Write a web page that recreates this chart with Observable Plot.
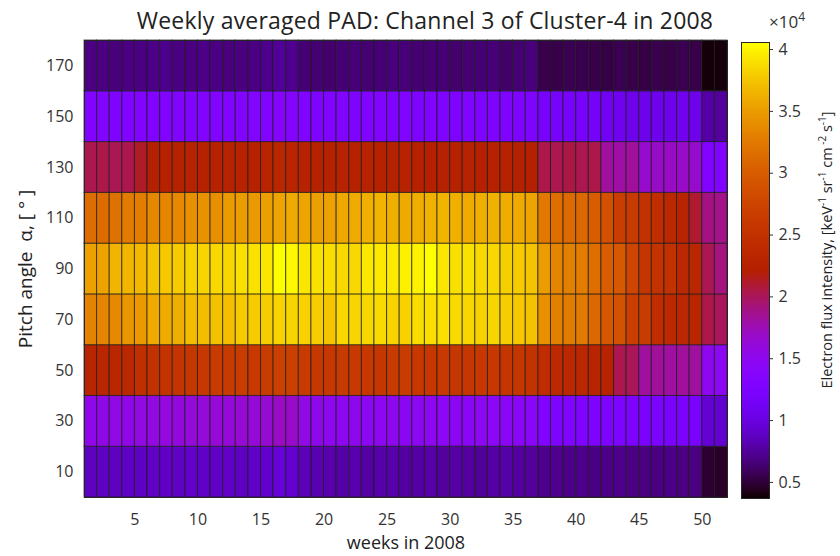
<!DOCTYPE html>
<html>
<head>
<meta charset="utf-8">
<script src="https://cdn.jsdelivr.net/npm/d3@7"></script>
<script src="https://cdn.jsdelivr.net/npm/@observablehq/plot@0.6"></script>
<style>
  html, body { margin: 0; padding: 0; background: #fff; }
  #wrap { position: relative; width: 840px; height: 556px; background: #fff; font-family: 'Open Sans', sans-serif; color: #222; overflow: hidden; }
  #title { position: absolute; left: 0px; width: 850px; top: 4px; text-align: center; font-size: 23px; letter-spacing: 0.2px; color: #222; white-space: nowrap; }
  #main { position: absolute; left: 0; top: 0; }
  #cb { position: absolute; left: 700px; top: 0; }
  #exp { position: absolute; left: 769px; top: 8px; font-size: 17px; color: #333; }
  #exp sup { font-size: 12px; }
  #cblabel { position: absolute; left: 827px; top: 250px; width: 420px; margin-left: -210px; margin-top: -10px; height: 20px; line-height: 20px;
             text-align: center; font-size: 14.5px; color: #222; transform: rotate(-90deg); white-space: nowrap; }
  #cblabel sup { font-size: 10px; line-height: 0; }
</style>
</head>
<body>
<div id="wrap">
  <div id="main"></div>
  <div id="cb"></div>
  <div id="title">Weekly averaged PAD: Channel 3 of Cluster-4 in 2008</div>
  <div id="exp">×10<sup>4</sup></div>
  <div id="cblabel">Electron flux intensity, [keV<sup>-1</sup> sr<sup>-1</sup> cm<sup> -2</sup> s<sup>-1</sup>]</div>
</div>
<script>
// ---- data ----
const weeks = d3.range(1, 52); // 51 plotted week cells (pcolor edges 1..52)
const angles = [10, 30, 50, 70, 90, 110, 130, 150, 170];
const xTicks = [5, 10, 15, 20, 25, 30, 35, 40, 45, 50];
const yTicks = [10, 30, 50, 70, 90, 110, 130, 150, 170];
const cbTicks = [5000, 10000, 15000, 20000, 25000, 30000, 35000, 40000];
const cmin = 3700, cmax = 40570;

const r10 = [
8700,8800,8700,8900,8800,8900,9000,8900,9100,9000,
8900,9000,8800,8900,9200,9600,9300,8400,8200,8000,
7900,8100,7800,7900,8000,7700,7800,7900,7600,7800,
7700,7500,7800,7900,7700,7600,7100,7200,7000,7100,
6900,7000,7100,6900,6800,6900,7000,6800,6900,4800,
4700];
const r30 = [
15400,15500,15600,15500,15700,15800,15900,16000,16200,16100,
16300,16200,16400,16300,16500,17000,16800,15600,15200,15000,
14900,15100,14800,14900,15000,14700,14800,14900,14600,14700,
14500,14800,14600,14400,14500,14300,13000,12900,13100,12800,
12700,12900,12600,12500,12300,12400,12200,12300,12100,9400,
9300];
const r50 = [
23100,23300,23200,23600,24700,25000,25200,25400,25800,26000,
26300,26200,26400,26100,26500,27000,26900,26200,26000,25900,
26300,26100,26000,25800,26200,26400,26000,25900,26100,25800,
25700,25900,26000,25600,25500,25300,24300,23800,23600,23400,
22900,22600,20300,20100,18200,18400,18100,18300,18200,15000,
14800];
const r70 = [
33200,33300,33600,34600,34800,35900,36000,36200,37000,37100,
37300,37200,37800,37900,38000,38300,38400,38200,38000,37600,
38600,38400,38500,38700,38300,38200,38800,38900,39000,38700,
38500,38200,38400,38000,37700,37400,34200,33000,32700,32500,
31000,29500,29000,26800,26400,24500,23800,23500,23000,20400,
20000];
const r90 = [
35300,35500,36500,36700,36800,37500,37700,37900,38300,38400,
38600,38500,39000,39100,39300,40500,40300,39300,39100,38900,
38700,38600,39400,39500,39600,39900,40000,40500,39300,39000,
39100,38700,38600,38100,37900,37500,35000,33300,33000,32800,
31600,30000,29600,27500,25500,25300,25100,23500,23200,20200,
19100];
const r110 = [
31500,31400,31800,32700,32800,33500,33400,33700,34200,34300,
34100,34900,35000,34800,35200,35500,35900,35600,35200,35300,
35800,36000,36300,36500,36200,35900,36100,36400,36600,36300,
36000,36200,36400,36100,35900,35500,32400,31600,31200,31000,
30000,28800,26600,26200,25000,24600,23400,22800,21000,19000,
18800];
const r130 = [
20300,20400,20200,20300,21200,22200,22400,22500,22600,22400,
22500,22700,22600,22500,22800,23200,23000,22600,22500,22400,
22600,22500,22700,22400,22500,22600,22400,22300,22500,22400,
22600,22300,22400,22500,22300,22200,20400,20300,20500,20300,
20400,18200,18000,18300,16600,16900,17000,16800,16700,13000,
13100];
const r150 = [
13000,13100,12900,13000,13100,13000,13200,13100,13000,13200,
13100,13000,13200,13300,13200,13800,13600,13000,12900,13000,
13100,12900,13000,13100,12900,13000,12900,13000,12800,12900,
13000,12800,12900,12700,12800,12900,11800,11900,11700,11800,
11600,11100,10800,10600,10500,10700,10600,10800,10500,7800,
7600];
const r170 = [
6800,6900,6700,6800,6900,7000,7100,6900,6800,7000,
6900,6700,6800,6900,7100,7500,7200,6500,6400,6300,
6500,6600,6400,6500,6700,6600,6400,6500,6500,6300,
6400,6500,6600,6200,6400,6700,5500,5400,5600,5500,
5400,5300,5600,5400,5300,5500,5400,5600,5400,3900,
3950];

const rows = [r10, r30, r50, r70, r90, r110, r130, r150, r170];
const cells = angles.flatMap((a, i) => weeks.map((w, j) => ({week: w, angle: a, flux: rows[i][j]})));

// gnuplot-like colormap (r = sqrt t, g = t^3, b = sin 2πt)
function gnuplot(t) {
  t = Math.max(0, Math.min(1, t));
  const r = Math.sqrt(t), g = t * t * t, b = Math.max(0, Math.sin(2 * Math.PI * t));
  return `rgb(${Math.round(255 * r)},${Math.round(255 * g)},${Math.round(255 * b)})`;
}
const colorScale = {type: "linear", domain: [cmin, cmax], interpolate: gnuplot, clamp: true};

const fontStyle = {fontFamily: "'Open Sans', sans-serif", fontSize: "16px", color: "#333", background: "transparent"};

const main = Plot.plot({
  width: 740, height: 556,
  marginLeft: 84, marginRight: 13, marginTop: 40, marginBottom: 59,
  style: fontStyle,
  x: {domain: [1, 52], ticks: xTicks, tickSize: 0, tickPadding: 16, label: null},
  y: {domain: [0, 180], ticks: yTicks, tickSize: 0, tickPadding: 11, label: null},
  color: colorScale,
  marks: [
    Plot.rect(cells, {
      x1: "week", x2: d => d.week + 1,
      y1: d => d.angle - 10, y2: d => d.angle + 10,
      fill: "flux", stroke: "#1a1a1a", strokeOpacity: 0.7, strokeWidth: 1
    }),
    Plot.frame({stroke: "#262626"}),
    Plot.text(["weeks in 2008"], {frameAnchor: "bottom", dy: 46, lineAnchor: "middle", textAnchor: "middle", fontSize: 18, fill: "#222"}),
    Plot.text(["Pitch angle  α, [ ° ]"], {frameAnchor: "left", rotate: -90, dx: -59, textAnchor: "middle", lineAnchor: "middle", fontSize: 19, fill: "#222"})
  ]
});
document.getElementById("main").appendChild(main);

const nSteps = 256;
const steps = d3.range(nSteps).map(i => {
  const lo = cmin + (cmax - cmin) * i / nSteps, hi = cmin + (cmax - cmin) * (i + 1) / nSteps;
  return {lo, hi, mid: (lo + hi) / 2};
});

const cb = Plot.plot({
  width: 140, height: 556,
  marginLeft: 41, marginRight: 71, marginTop: 42, marginBottom: 58,
  style: fontStyle,
  x: {domain: [0, 1], axis: null},
  y: {domain: [cmin, cmax], axis: "right", ticks: cbTicks, tickFormat: d => d / 1e4, tickSize: 3, tickPadding: 6, label: null},
  color: colorScale,
  marks: [
    Plot.rect(steps, {x1: 0, x2: 1, y1: "lo", y2: "hi", fill: "mid", stroke: "mid", strokeWidth: 0.6, shapeRendering: "crispEdges"}),
    Plot.frame({stroke: "#262626"})
  ]
});
document.getElementById("cb").appendChild(cb);
</script>
</body>
</html>
